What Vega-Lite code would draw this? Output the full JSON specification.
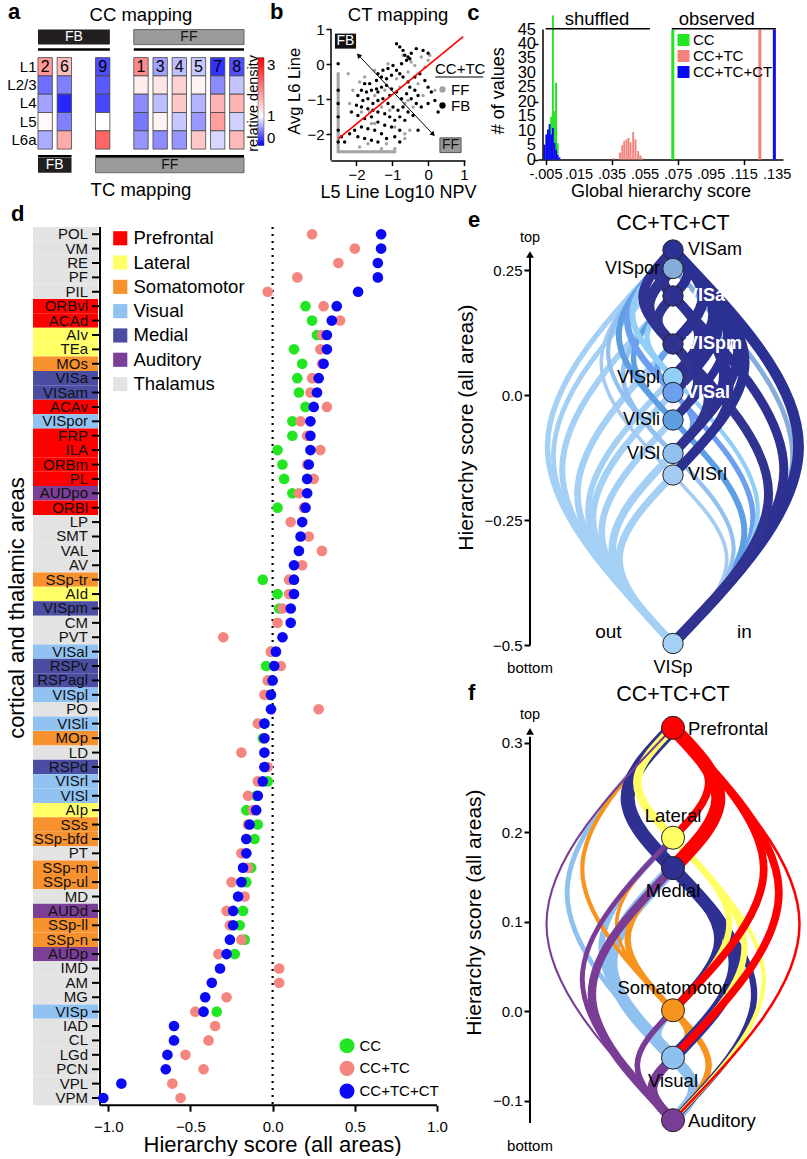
{
"$schema": "https://vega.github.io/schema/vega-lite/v6.json",
"background": "white",
"padding": {"left": 5, "top": 0, "right": 0, "bottom": 0},
"config": {
  "view": {"stroke": null},
  "font": "Liberation Sans",
  "axis": {"labelColor": "#000", "titleColor": "#000", "domainColor": "#000", "tickColor": "#000", "titleFontWeight": "normal", "grid": false, "domainWidth": 1.5, "tickWidth": 1.5, "labelFont": "Liberation Sans", "titleFont": "Liberation Sans"},
  "legend": {"labelColor": "#000", "labelFont": "Liberation Sans", "titleFont": "Liberation Sans", "titleColor": "#000"},
  "text": {"font": "Liberation Sans", "color": "#000"}
},
"datasets": {
  "heat": [
    {"col":"2","layer":"L1","v":1.8},{"col":"2","layer":"L2/3","v":0.43},{"col":"2","layer":"L4","v":0.63},{"col":"2","layer":"L5","v":1.05},{"col":"2","layer":"L6a","v":0.67},
    {"col":"6","layer":"L1","v":1.5},{"col":"6","layer":"L2/3","v":0.5},{"col":"6","layer":"L4","v":0.15},{"col":"6","layer":"L5","v":0.5},{"col":"6","layer":"L6a","v":1.67},
    {"col":"9","layer":"L1","v":0.3},{"col":"9","layer":"L2/3","v":0.35},{"col":"9","layer":"L4","v":0.28},{"col":"9","layer":"L5","v":1.0},{"col":"9","layer":"L6a","v":2.2},
    {"col":"1","layer":"L1","v":1.9},{"col":"1","layer":"L2/3","v":1.15},{"col":"1","layer":"L4","v":0.55},{"col":"1","layer":"L5","v":0.47},{"col":"1","layer":"L6a","v":0.59},
    {"col":"3","layer":"L1","v":0.63},{"col":"3","layer":"L2/3","v":1.2},{"col":"3","layer":"L4","v":0.75},{"col":"3","layer":"L5","v":1.1},{"col":"3","layer":"L6a","v":0.55},
    {"col":"4","layer":"L1","v":0.75},{"col":"4","layer":"L2/3","v":1.35},{"col":"4","layer":"L4","v":1.43},{"col":"4","layer":"L5","v":0.78},{"col":"4","layer":"L6a","v":0.59},
    {"col":"5","layer":"L1","v":0.78},{"col":"5","layer":"L2/3","v":1.1},{"col":"5","layer":"L4","v":0.7},{"col":"5","layer":"L5","v":0.6},{"col":"5","layer":"L6a","v":1.43},
    {"col":"7","layer":"L1","v":0.2},{"col":"7","layer":"L2/3","v":0.55},{"col":"7","layer":"L4","v":1.6},{"col":"7","layer":"L5","v":1.75},{"col":"7","layer":"L6a","v":0.84},
    {"col":"8","layer":"L1","v":0.31},{"col":"8","layer":"L2/3","v":0.77},{"col":"8","layer":"L4","v":1.6},{"col":"8","layer":"L5","v":0.82},{"col":"8","layer":"L6a","v":1.55}
  ],
  "pts": [
    {"x":-2.51,"y":-2.5,"c":"FF"},{"x":-2.45,"y":-2.5,"c":"FF"},{"x":-2.38,"y":-2.5,"c":"FF"},{"x":-2.31,"y":-2.5,"c":"FF"},{"x":-2.24,"y":-2.5,"c":"FF"},{"x":-2.17,"y":-2.5,"c":"FF"},{"x":-2.1,"y":-2.5,"c":"FF"},{"x":-2.03,"y":-2.5,"c":"FF"},{"x":-1.96,"y":-2.5,"c":"FF"},{"x":-1.89,"y":-2.5,"c":"FF"},{"x":-1.82,"y":-2.5,"c":"FF"},{"x":-1.75,"y":-2.5,"c":"FF"},{"x":-1.68,"y":-2.5,"c":"FF"},{"x":-1.61,"y":-2.5,"c":"FF"},{"x":-1.54,"y":-2.5,"c":"FF"},{"x":-1.47,"y":-2.5,"c":"FF"},{"x":-1.4,"y":-2.5,"c":"FF"},{"x":-1.33,"y":-2.5,"c":"FF"},{"x":-1.26,"y":-2.5,"c":"FF"},{"x":-1.19,"y":-2.5,"c":"FF"},{"x":-1.12,"y":-2.5,"c":"FF"},{"x":-1.05,"y":-2.5,"c":"FF"},{"x":-0.98,"y":-2.5,"c":"FF"},{"x":-0.93,"y":-2.5,"c":"FF"},
    {"x":-2.51,"y":-2.43,"c":"FF"},{"x":-2.51,"y":-2.36,"c":"FF"},{"x":-2.51,"y":-2.29,"c":"FF"},{"x":-2.51,"y":-2.22,"c":"FF"},{"x":-2.51,"y":-2.15,"c":"FF"},{"x":-2.51,"y":-2.08,"c":"FF"},{"x":-2.51,"y":-2.01,"c":"FF"},{"x":-2.51,"y":-1.94,"c":"FF"},{"x":-2.51,"y":-1.87,"c":"FF"},{"x":-2.51,"y":-1.8,"c":"FF"},{"x":-2.51,"y":-1.73,"c":"FF"},{"x":-2.51,"y":-1.66,"c":"FF"},{"x":-2.51,"y":-1.59,"c":"FF"},{"x":-2.51,"y":-1.52,"c":"FF"},{"x":-2.51,"y":-1.45,"c":"FF"},{"x":-2.51,"y":-1.38,"c":"FF"},{"x":-2.51,"y":-1.31,"c":"FF"},{"x":-2.51,"y":-1.24,"c":"FF"},{"x":-2.51,"y":-1.17,"c":"FF"},{"x":-2.51,"y":-1.1,"c":"FF"},{"x":-2.51,"y":-1.03,"c":"FF"},{"x":-2.51,"y":-0.96,"c":"FF"},{"x":-2.51,"y":-0.89,"c":"FF"},{"x":-2.51,"y":-0.82,"c":"FF"},{"x":-2.51,"y":-0.75,"c":"FF"},{"x":-2.51,"y":-0.68,"c":"FF"},{"x":-2.51,"y":-0.61,"c":"FF"},{"x":-2.51,"y":-0.54,"c":"FF"},{"x":-2.51,"y":-0.47,"c":"FF"},{"x":-2.51,"y":-0.4,"c":"FF"},{"x":-2.51,"y":-0.33,"c":"FF"},{"x":-2.51,"y":-0.27,"c":"FF"},
    {"x":-2.23,"y":-0.27,"c":"FF"},{"x":-1.91,"y":-0.5,"c":"FF"},{"x":-1.86,"y":-1.36,"c":"FF"},{"x":-1.58,"y":-1.69,"c":"FF"},{"x":-1.91,"y":-2.36,"c":"FF"},{"x":-1.68,"y":-2.27,"c":"FF"},{"x":-1.3,"y":-2.41,"c":"FF"},{"x":-0.93,"y":-2.41,"c":"FF"},{"x":-1.16,"y":-2.27,"c":"FF"},{"x":-0.51,"y":-1.88,"c":"FF"},{"x":-0.65,"y":-1.98,"c":"FF"},{"x":-0.93,"y":-1.79,"c":"FF"},{"x":-0.42,"y":-1.22,"c":"FF"},{"x":-0.56,"y":-1.03,"c":"FF"},{"x":-0.37,"y":-0.03,"c":"FF"},{"x":-0.19,"y":0.21,"c":"FF"},{"x":0.0,"y":0.12,"c":"FF"},{"x":-0.09,"y":-0.08,"c":"FF"},{"x":0.05,"y":0.26,"c":"FF"},{"x":-0.28,"y":-0.55,"c":"FF"},{"x":-0.14,"y":-0.89,"c":"FF"},{"x":-0.79,"y":-0.65,"c":"FF"},{"x":-1.21,"y":-0.74,"c":"FF"},{"x":-1.49,"y":-0.89,"c":"FF"},{"x":-1.3,"y":-1.22,"c":"FF"},{"x":-1.07,"y":-1.31,"c":"FF"},{"x":-1.63,"y":-1.36,"c":"FF"},{"x":-0.65,"y":-1.12,"c":"FF"},{"x":-0.56,"y":-0.22,"c":"FF"},{"x":-0.88,"y":-0.41,"c":"FF"},{"x":0.19,"y":-0.74,"c":"FF"},{"x":-0.47,"y":0.07,"c":"FF"},{"x":-0.7,"y":0.26,"c":"FF"},{"x":-1.12,"y":0.02,"c":"FF"},{"x":-1.49,"y":-0.17,"c":"FF"},{"x":-1.77,"y":-0.36,"c":"FF"},{"x":-2.1,"y":-0.74,"c":"FF"},{"x":-2.19,"y":-1.12,"c":"FF"},{"x":-1.49,"y":-1.69,"c":"FF"},{"x":-0.65,"y":-2.12,"c":"FF"},
    {"x":-0.88,"y":0.59,"c":"FB"},{"x":-0.79,"y":0.5,"c":"FB"},{"x":-0.7,"y":0.4,"c":"FB"},{"x":-0.65,"y":0.26,"c":"FB"},{"x":-0.56,"y":0.21,"c":"FB"},{"x":-0.51,"y":0.16,"c":"FB"},{"x":-0.47,"y":0.32,"c":"FB"},{"x":-0.6,"y":0.12,"c":"FB"},{"x":-0.33,"y":0.45,"c":"FB"},{"x":-0.14,"y":0.4,"c":"FB"},{"x":0.0,"y":0.32,"c":"FB"},{"x":-0.74,"y":0.02,"c":"FB"},{"x":-0.98,"y":-0.03,"c":"FB"},{"x":-1.12,"y":-0.12,"c":"FB"},{"x":-1.26,"y":-0.17,"c":"FB"},{"x":-1.4,"y":-0.27,"c":"FB"},{"x":-1.3,"y":-0.36,"c":"FB"},{"x":-1.16,"y":-0.41,"c":"FB"},{"x":-1.02,"y":-0.31,"c":"FB"},{"x":-0.88,"y":-0.17,"c":"FB"},{"x":-0.79,"y":-0.27,"c":"FB"},{"x":-0.7,"y":-0.36,"c":"FB"},{"x":-0.56,"y":-0.5,"c":"FB"},{"x":-0.37,"y":-0.36,"c":"FB"},{"x":-0.23,"y":-0.27,"c":"FB"},{"x":-0.09,"y":-0.46,"c":"FB"},{"x":0.0,"y":-0.65,"c":"FB"},{"x":0.09,"y":-0.79,"c":"FB"},{"x":0.19,"y":-1.03,"c":"FB"},{"x":0.0,"y":-1.12,"c":"FB"},{"x":-0.19,"y":-1.22,"c":"FB"},{"x":-0.33,"y":-1.12,"c":"FB"},{"x":-0.47,"y":-0.98,"c":"FB"},{"x":-0.6,"y":-0.84,"c":"FB"},{"x":-0.74,"y":-0.98,"c":"FB"},{"x":-0.88,"y":-0.79,"c":"FB"},{"x":-1.02,"y":-0.7,"c":"FB"},{"x":-1.16,"y":-0.6,"c":"FB"},{"x":-1.3,"y":-0.65,"c":"FB"},{"x":-1.44,"y":-0.7,"c":"FB"},{"x":-1.58,"y":-0.74,"c":"FB"},{"x":-1.72,"y":-0.79,"c":"FB"},{"x":-1.86,"y":-0.74,"c":"FB"},{"x":-1.96,"y":-0.89,"c":"FB"},{"x":-1.82,"y":-1.03,"c":"FB"},{"x":-1.68,"y":-0.98,"c":"FB"},{"x":-1.54,"y":-1.12,"c":"FB"},{"x":-1.4,"y":-1.03,"c":"FB"},{"x":-1.26,"y":-0.98,"c":"FB"},{"x":-1.12,"y":-1.12,"c":"FB"},{"x":-0.98,"y":-1.22,"c":"FB"},{"x":-0.84,"y":-1.31,"c":"FB"},{"x":-0.7,"y":-1.22,"c":"FB"},{"x":-0.56,"y":-1.36,"c":"FB"},{"x":-0.42,"y":-1.46,"c":"FB"},{"x":-0.65,"y":-1.6,"c":"FB"},{"x":-0.79,"y":-1.5,"c":"FB"},{"x":-0.93,"y":-1.6,"c":"FB"},{"x":-1.07,"y":-1.5,"c":"FB"},{"x":-1.21,"y":-1.41,"c":"FB"},{"x":-1.4,"y":-1.36,"c":"FB"},{"x":-1.54,"y":-1.31,"c":"FB"},{"x":-1.68,"y":-1.27,"c":"FB"},{"x":-1.86,"y":-1.22,"c":"FB"},{"x":-2.0,"y":-1.17,"c":"FB"},{"x":-2.14,"y":-1.36,"c":"FB"},{"x":-1.96,"y":-1.46,"c":"FB"},{"x":-1.77,"y":-1.55,"c":"FB"},{"x":-1.58,"y":-1.5,"c":"FB"},{"x":-1.4,"y":-1.65,"c":"FB"},{"x":-1.21,"y":-1.74,"c":"FB"},{"x":-1.02,"y":-1.79,"c":"FB"},{"x":-0.79,"y":-1.88,"c":"FB"},{"x":-0.93,"y":-2.07,"c":"FB"},{"x":-1.16,"y":-2.12,"c":"FB"},{"x":-1.3,"y":-1.98,"c":"FB"},{"x":-1.49,"y":-1.88,"c":"FB"},{"x":-1.68,"y":-1.84,"c":"FB"},{"x":-1.86,"y":-1.79,"c":"FB"},{"x":-2.05,"y":-1.88,"c":"FB"},{"x":-2.19,"y":-1.98,"c":"FB"},{"x":-1.96,"y":-2.07,"c":"FB"},{"x":-1.77,"y":-2.12,"c":"FB"},{"x":-1.58,"y":-2.17,"c":"FB"},{"x":-1.4,"y":-2.22,"c":"FB"},{"x":-2.42,"y":-2.07,"c":"FB"},{"x":-2.33,"y":-2.22,"c":"FB"},{"x":-2.51,"y":0.02,"c":"FB"},{"x":-0.37,"y":-0.74,"c":"FB"},{"x":-0.28,"y":-0.89,"c":"FB"},{"x":-0.51,"y":-0.65,"c":"FB"},{"x":-1.07,"y":-0.89,"c":"FB"},{"x":-1.4,"y":-0.79,"c":"FB"},{"x":-1.63,"y":-0.55,"c":"FB"},{"x":-1.44,"y":-0.46,"c":"FB"},{"x":-1.77,"y":-0.55,"c":"FB"},{"x":0.28,"y":-1.36,"c":"FB"},{"x":-0.28,"y":-1.88,"c":"FB"},{"x":-0.79,"y":-2.22,"c":"FB"},{"x":-2.51,"y":-0.74,"c":"FB"},{"x":-2.51,"y":-1.12,"c":"FB"},{"x":-2.51,"y":-1.5,"c":"FB"},{"x":-2.51,"y":-1.88,"c":"FB"},{"x":-2.51,"y":-2.22,"c":"FB"}
  ],
  "hist": [
    {"s":"CC+TC","v":0.0359,"n":0.5},{"s":"CC+TC","v":0.0398,"n":2.5},{"s":"CC+TC","v":0.0412,"n":5},{"s":"CC+TC","v":0.0424,"n":6.5},{"s":"CC+TC","v":0.0438,"n":7},{"s":"CC+TC","v":0.045,"n":7.5},{"s":"CC+TC","v":0.0462,"n":6},{"s":"CC+TC","v":0.0478,"n":9.5},{"s":"CC+TC","v":0.0492,"n":7},{"s":"CC+TC","v":0.0508,"n":3},{"s":"CC+TC","v":0.0521,"n":1.5},{"s":"CC+TC","v":0.0533,"n":0.5},
    {"s":"CC","v":-0.0019,"n":6},{"s":"CC","v":-0.0008,"n":38.9},{"s":"CC","v":0.0002,"n":11},{"s":"CC","v":0.0011,"n":23.1},{"s":"CC","v":0.0021,"n":4},
    {"s":"CC+TC+CT","v":-0.0058,"n":5.2},{"s":"CC+TC+CT","v":-0.0048,"n":8.7},{"s":"CC+TC+CT","v":-0.0038,"n":10.4},{"s":"CC+TC+CT","v":-0.0028,"n":12.3},{"s":"CC+TC+CT","v":-0.0019,"n":8.8},{"s":"CC+TC+CT","v":-0.0008,"n":11},{"s":"CC+TC+CT","v":0.0002,"n":5.8},{"s":"CC+TC+CT","v":0.0011,"n":3.5},{"s":"CC+TC+CT","v":0.0021,"n":1.7},{"s":"CC+TC+CT","v":0.0031,"n":0.8}
  ],
  "d1": [
    {"area":"POL","group":"Thalamus","CC":null,"CC+TC":0.24,"CC+TC+CT":0.66},
    {"area":"VM","group":"Thalamus","CC":null,"CC+TC":0.5,"CC+TC+CT":0.66},
    {"area":"RE","group":"Thalamus","CC":null,"CC+TC":0.4,"CC+TC+CT":0.64},
    {"area":"PF","group":"Thalamus","CC":null,"CC+TC":0.15,"CC+TC+CT":0.64},
    {"area":"PIL","group":"Thalamus","CC":null,"CC+TC":-0.03,"CC+TC+CT":0.52},
    {"area":"ORBvl","group":"Prefrontal","CC":0.2,"CC+TC":0.31,"CC+TC+CT":0.39},
    {"area":"ACAd","group":"Prefrontal","CC":0.24,"CC+TC":0.41,"CC+TC+CT":0.36},
    {"area":"AIv","group":"Lateral","CC":0.27,"CC+TC":0.3,"CC+TC+CT":0.33},
    {"area":"TEa","group":"Lateral","CC":0.13,"CC+TC":0.29,"CC+TC+CT":0.33},
    {"area":"MOs","group":"Somatomotor","CC":0.18,"CC+TC":0.3,"CC+TC+CT":0.31},
    {"area":"VISa","group":"Medial","CC":0.15,"CC+TC":0.24,"CC+TC+CT":0.28},
    {"area":"VISam","group":"Medial","CC":0.16,"CC+TC":0.23,"CC+TC+CT":0.27},
    {"area":"ACAv","group":"Prefrontal","CC":0.2,"CC+TC":0.33,"CC+TC+CT":0.25},
    {"area":"VISpor","group":"Visual","CC":0.12,"CC+TC":0.17,"CC+TC+CT":0.23},
    {"area":"FRP","group":"Prefrontal","CC":0.12,"CC+TC":0.21,"CC+TC+CT":0.23},
    {"area":"ILA","group":"Prefrontal","CC":0.03,"CC+TC":0.29,"CC+TC+CT":0.23},
    {"area":"ORBm","group":"Prefrontal","CC":0.06,"CC+TC":0.21,"CC+TC+CT":0.22},
    {"area":"PL","group":"Prefrontal","CC":0.07,"CC+TC":0.25,"CC+TC+CT":0.21},
    {"area":"AUDpo","group":"Auditory","CC":0.12,"CC+TC":0.16,"CC+TC+CT":0.21},
    {"area":"ORBl","group":"Prefrontal","CC":0.03,"CC+TC":0.19,"CC+TC+CT":0.2},
    {"area":"LP","group":"Thalamus","CC":null,"CC+TC":0.11,"CC+TC+CT":0.18},
    {"area":"SMT","group":"Thalamus","CC":null,"CC+TC":0.22,"CC+TC+CT":0.17},
    {"area":"VAL","group":"Thalamus","CC":null,"CC+TC":0.3,"CC+TC+CT":0.16},
    {"area":"AV","group":"Thalamus","CC":null,"CC+TC":0.18,"CC+TC+CT":0.13},
    {"area":"SSp-tr","group":"Somatomotor","CC":-0.06,"CC+TC":0.1,"CC+TC+CT":0.13},
    {"area":"AId","group":"Lateral","CC":0.03,"CC+TC":0.1,"CC+TC+CT":0.13},
    {"area":"VISpm","group":"Medial","CC":0.04,"CC+TC":0.06,"CC+TC+CT":0.11},
    {"area":"CM","group":"Thalamus","CC":null,"CC+TC":0.03,"CC+TC+CT":0.11},
    {"area":"PVT","group":"Thalamus","CC":null,"CC+TC":-0.3,"CC+TC+CT":0.06},
    {"area":"VISal","group":"Visual","CC":-0.01,"CC+TC":-0.01,"CC+TC+CT":0.02},
    {"area":"RSPv","group":"Medial","CC":-0.04,"CC+TC":0.05,"CC+TC+CT":0.01},
    {"area":"RSPagl","group":"Medial","CC":-0.01,"CC+TC":-0.03,"CC+TC+CT":0.0},
    {"area":"VISpl","group":"Visual","CC":-0.02,"CC+TC":-0.05,"CC+TC+CT":-0.01},
    {"area":"PO","group":"Thalamus","CC":null,"CC+TC":0.28,"CC+TC+CT":-0.01},
    {"area":"VISli","group":"Visual","CC":-0.05,"CC+TC":-0.09,"CC+TC+CT":-0.05}
  ],
  "d2": [
    {"area":"MOp","group":"Somatomotor","CC":-0.06,"CC+TC":-0.05,"CC+TC+CT":-0.05},
    {"area":"LD","group":"Thalamus","CC":null,"CC+TC":-0.19,"CC+TC+CT":-0.05},
    {"area":"RSPd","group":"Medial","CC":-0.04,"CC+TC":-0.03,"CC+TC+CT":-0.05},
    {"area":"VISrl","group":"Visual","CC":-0.03,"CC+TC":-0.09,"CC+TC+CT":-0.06},
    {"area":"VISl","group":"Visual","CC":-0.1,"CC+TC":-0.15,"CC+TC+CT":-0.09},
    {"area":"AIp","group":"Lateral","CC":-0.16,"CC+TC":-0.12,"CC+TC+CT":-0.1},
    {"area":"SSs","group":"Somatomotor","CC":-0.09,"CC+TC":-0.15,"CC+TC+CT":-0.14},
    {"area":"SSp-bfd","group":"Somatomotor","CC":-0.11,"CC+TC":-0.16,"CC+TC+CT":-0.16},
    {"area":"PT","group":"Thalamus","CC":null,"CC+TC":-0.19,"CC+TC+CT":-0.16},
    {"area":"SSp-m","group":"Somatomotor","CC":-0.13,"CC+TC":-0.15,"CC+TC+CT":-0.18},
    {"area":"SSp-ul","group":"Somatomotor","CC":-0.16,"CC+TC":-0.25,"CC+TC+CT":-0.19},
    {"area":"MD","group":"Thalamus","CC":null,"CC+TC":-0.17,"CC+TC+CT":-0.21},
    {"area":"AUDd","group":"Auditory","CC":-0.18,"CC+TC":-0.28,"CC+TC+CT":-0.24},
    {"area":"SSp-ll","group":"Somatomotor","CC":-0.2,"CC+TC":-0.26,"CC+TC+CT":-0.24},
    {"area":"SSp-n","group":"Somatomotor","CC":-0.17,"CC+TC":-0.19,"CC+TC+CT":-0.26},
    {"area":"AUDp","group":"Auditory","CC":-0.23,"CC+TC":-0.33,"CC+TC+CT":-0.28},
    {"area":"IMD","group":"Thalamus","CC":null,"CC+TC":0.04,"CC+TC+CT":-0.32},
    {"area":"AM","group":"Thalamus","CC":null,"CC+TC":0.04,"CC+TC+CT":-0.37},
    {"area":"MG","group":"Thalamus","CC":null,"CC+TC":-0.28,"CC+TC+CT":-0.41},
    {"area":"VISp","group":"Visual","CC":-0.34,"CC+TC":-0.47,"CC+TC+CT":-0.42},
    {"area":"IAD","group":"Thalamus","CC":null,"CC+TC":-0.35,"CC+TC+CT":-0.6},
    {"area":"CL","group":"Thalamus","CC":null,"CC+TC":-0.39,"CC+TC+CT":-0.6},
    {"area":"LGd","group":"Thalamus","CC":null,"CC+TC":-0.53,"CC+TC+CT":-0.64},
    {"area":"PCN","group":"Thalamus","CC":null,"CC+TC":-0.42,"CC+TC+CT":-0.65},
    {"area":"VPL","group":"Thalamus","CC":null,"CC+TC":-0.61,"CC+TC+CT":-0.92},
    {"area":"VPM","group":"Thalamus","CC":null,"CC+TC":-0.56,"CC+TC+CT":-1.03}
  ],
  "enodes": [
    {"n":"VISam","y":0.29},{"n":"VISpor","y":0.253},{"n":"VISa","y":0.198},{"n":"VISpm","y":0.102},{"n":"VISpl","y":0.035},{"n":"VISal","y":0.005},{"n":"VISli","y":-0.05},{"n":"VISl","y":-0.117},{"n":"VISrl","y":-0.16},{"n":"VISp","y":-0.497}
  ],
  "earcs": [
    {"a":1,"k":0,"x":0,"y":-0.497,"s":"VISp","w":0.45},{"a":1,"k":1,"x":-0.913,"y":-0.1035,"s":"VISp","w":0.45},{"a":1,"k":2,"x":0,"y":0.29,"s":"VISp","w":0.45},
    {"a":2,"k":0,"x":0,"y":-0.497,"s":"VISp","w":0.4},{"a":2,"k":1,"x":-0.87,"y":-0.122,"s":"VISp","w":0.4},{"a":2,"k":2,"x":0,"y":0.253,"s":"VISp","w":0.4},
    {"a":3,"k":0,"x":0,"y":-0.497,"s":"VISp","w":0.5},{"a":3,"k":1,"x":-0.806,"y":-0.1495,"s":"VISp","w":0.5},{"a":3,"k":2,"x":0,"y":0.198,"s":"VISp","w":0.5},
    {"a":4,"k":0,"x":0,"y":-0.497,"s":"VISp","w":0.55},{"a":4,"k":1,"x":-0.695,"y":-0.1975,"s":"VISp","w":0.55},{"a":4,"k":2,"x":0,"y":0.102,"s":"VISp","w":0.55},
    {"a":5,"k":0,"x":0,"y":-0.497,"s":"VISp","w":0.5},{"a":5,"k":1,"x":-0.617,"y":-0.231,"s":"VISp","w":0.5},{"a":5,"k":2,"x":0,"y":0.035,"s":"VISp","w":0.5},
    {"a":6,"k":0,"x":0,"y":-0.497,"s":"VISp","w":0.55},{"a":6,"k":1,"x":-0.582,"y":-0.246,"s":"VISp","w":0.55},{"a":6,"k":2,"x":0,"y":0.005,"s":"VISp","w":0.55},
    {"a":7,"k":0,"x":0,"y":-0.497,"s":"VISp","w":0.55},{"a":7,"k":1,"x":-0.519,"y":-0.2735,"s":"VISp","w":0.55},{"a":7,"k":2,"x":0,"y":-0.05,"s":"VISp","w":0.55},
    {"a":8,"k":0,"x":0,"y":-0.497,"s":"VISp","w":0.65},{"a":8,"k":1,"x":-0.441,"y":-0.307,"s":"VISp","w":0.65},{"a":8,"k":2,"x":0,"y":-0.117,"s":"VISp","w":0.65},
    {"a":9,"k":0,"x":0,"y":-0.497,"s":"VISp","w":0.6},{"a":9,"k":1,"x":-0.391,"y":-0.3285,"s":"VISp","w":0.6},{"a":9,"k":2,"x":0,"y":-0.16,"s":"VISp","w":0.6},
    {"a":10,"k":0,"x":0,"y":-0.16,"s":"VISrl","w":0.3},{"a":10,"k":1,"x":-0.522,"y":0.065,"s":"VISrl","w":0.3},{"a":10,"k":2,"x":0,"y":0.29,"s":"VISrl","w":0.3},
    {"a":11,"k":0,"x":0,"y":-0.117,"s":"VISl","w":0.35},{"a":11,"k":1,"x":-0.472,"y":0.0865,"s":"VISl","w":0.35},{"a":11,"k":2,"x":0,"y":0.29,"s":"VISl","w":0.35},
    {"a":12,"k":0,"x":0,"y":-0.117,"s":"VISl","w":0.4},{"a":12,"k":1,"x":-0.365,"y":0.0405,"s":"VISl","w":0.4},{"a":12,"k":2,"x":0,"y":0.198,"s":"VISl","w":0.4},
    {"a":13,"k":0,"x":0,"y":-0.05,"s":"VISli","w":0.5},{"a":13,"k":1,"x":-0.394,"y":0.12,"s":"VISli","w":0.5},{"a":13,"k":2,"x":0,"y":0.29,"s":"VISli","w":0.5},
    {"a":14,"k":0,"x":0,"y":-0.05,"s":"VISli","w":0.45},{"a":14,"k":1,"x":-0.288,"y":0.074,"s":"VISli","w":0.45},{"a":14,"k":2,"x":0,"y":0.198,"s":"VISli","w":0.45},
    {"a":15,"k":0,"x":0,"y":0.005,"s":"VISal","w":0.55},{"a":15,"k":1,"x":-0.331,"y":0.1475,"s":"VISal","w":0.55},{"a":15,"k":2,"x":0,"y":0.29,"s":"VISal","w":0.55},
    {"a":16,"k":0,"x":0,"y":0.005,"s":"VISal","w":0.5},{"a":16,"k":1,"x":-0.113,"y":0.0535,"s":"VISal","w":0.5},{"a":16,"k":2,"x":0,"y":0.102,"s":"VISal","w":0.5},
    {"a":17,"k":0,"x":0,"y":0.035,"s":"VISpl","w":0.5},{"a":17,"k":1,"x":-0.296,"y":0.1625,"s":"VISpl","w":0.5},{"a":17,"k":2,"x":0,"y":0.29,"s":"VISpl","w":0.5},
    {"a":18,"k":0,"x":0,"y":0.035,"s":"VISpl","w":0.45},{"a":18,"k":1,"x":-0.189,"y":0.1165,"s":"VISpl","w":0.45},{"a":18,"k":2,"x":0,"y":0.198,"s":"VISpl","w":0.45},
    {"a":19,"k":0,"x":0,"y":0.253,"s":"VISpor","w":0.3},{"a":19,"k":1,"x":-0.043,"y":0.2715,"s":"VISpor","w":0.3},{"a":19,"k":2,"x":0,"y":0.29,"s":"VISpor","w":0.3},
    {"a":20,"k":0,"x":0,"y":0.102,"s":"VISpm","w":0.8},{"a":20,"k":1,"x":-0.111,"y":0.15,"s":"VISpm","w":0.8},{"a":20,"k":2,"x":0,"y":0.198,"s":"VISpm","w":0.8},
    {"a":21,"k":0,"x":0,"y":0.198,"s":"VISa","w":0.8},{"a":21,"k":1,"x":-0.107,"y":0.244,"s":"VISa","w":0.8},{"a":21,"k":2,"x":0,"y":0.29,"s":"VISa","w":0.8},
    {"a":22,"k":0,"x":0,"y":0.102,"s":"VISpm","w":0.8},{"a":22,"k":1,"x":-0.218,"y":0.196,"s":"VISpm","w":0.8},{"a":22,"k":2,"x":0,"y":0.29,"s":"VISpm","w":0.8},
    {"a":23,"k":0,"x":0,"y":0.253,"s":"VISpor","w":0.4},{"a":23,"k":1,"x":0.87,"y":-0.122,"s":"VISpor","w":0.4},{"a":23,"k":2,"x":0,"y":-0.497,"s":"VISpor","w":0.4},
    {"a":24,"k":0,"x":0,"y":0.005,"s":"VISal","w":0.45},{"a":24,"k":1,"x":0.582,"y":-0.246,"s":"VISal","w":0.45},{"a":24,"k":2,"x":0,"y":-0.497,"s":"VISal","w":0.45},
    {"a":25,"k":0,"x":0,"y":-0.05,"s":"VISli","w":0.5},{"a":25,"k":1,"x":0.519,"y":-0.2735,"s":"VISli","w":0.5},{"a":25,"k":2,"x":0,"y":-0.497,"s":"VISli","w":0.5},
    {"a":26,"k":0,"x":0,"y":0.035,"s":"VISpl","w":0.35},{"a":26,"k":1,"x":0.617,"y":-0.231,"s":"VISpl","w":0.35},{"a":26,"k":2,"x":0,"y":-0.497,"s":"VISpl","w":0.35},
    {"a":27,"k":0,"x":0,"y":-0.117,"s":"VISl","w":0.35},{"a":27,"k":1,"x":0.441,"y":-0.307,"s":"VISl","w":0.35},{"a":27,"k":2,"x":0,"y":-0.497,"s":"VISl","w":0.35},
    {"a":28,"k":0,"x":0,"y":-0.16,"s":"VISrl","w":0.3},{"a":28,"k":1,"x":0.391,"y":-0.3285,"s":"VISrl","w":0.3},{"a":28,"k":2,"x":0,"y":-0.497,"s":"VISrl","w":0.3},
    {"a":29,"k":0,"x":0,"y":0.253,"s":"VISpor","w":0.4},{"a":29,"k":1,"x":0.351,"y":0.1015,"s":"VISpor","w":0.4},{"a":29,"k":2,"x":0,"y":-0.05,"s":"VISpor","w":0.4},
    {"a":30,"k":0,"x":0,"y":0.005,"s":"VISal","w":0.4},{"a":30,"k":1,"x":0.142,"y":-0.056,"s":"VISal","w":0.4},{"a":30,"k":2,"x":0,"y":-0.117,"s":"VISal","w":0.4},
    {"a":31,"k":0,"x":0,"y":0.29,"s":"VISam","w":0.9},{"a":31,"k":1,"x":0.913,"y":-0.1035,"s":"VISam","w":0.9},{"a":31,"k":2,"x":0,"y":-0.497,"s":"VISam","w":0.9},
    {"a":32,"k":0,"x":0,"y":0.198,"s":"VISa","w":0.75},{"a":32,"k":1,"x":0.806,"y":-0.1495,"s":"VISa","w":0.75},{"a":32,"k":2,"x":0,"y":-0.497,"s":"VISa","w":0.75},
    {"a":33,"k":0,"x":0,"y":0.102,"s":"VISpm","w":0.75},{"a":33,"k":1,"x":0.695,"y":-0.1975,"s":"VISpm","w":0.75},{"a":33,"k":2,"x":0,"y":-0.497,"s":"VISpm","w":0.75},
    {"a":34,"k":0,"x":0,"y":0.29,"s":"VISam","w":0.8},{"a":34,"k":1,"x":0.522,"y":0.065,"s":"VISam","w":0.8},{"a":34,"k":2,"x":0,"y":-0.16,"s":"VISam","w":0.8},
    {"a":35,"k":0,"x":0,"y":0.29,"s":"VISam","w":0.8},{"a":35,"k":1,"x":0.472,"y":0.0865,"s":"VISam","w":0.8},{"a":35,"k":2,"x":0,"y":-0.117,"s":"VISam","w":0.8},
    {"a":36,"k":0,"x":0,"y":0.29,"s":"VISam","w":0.7},{"a":36,"k":1,"x":0.394,"y":0.12,"s":"VISam","w":0.7},{"a":36,"k":2,"x":0,"y":-0.05,"s":"VISam","w":0.7},
    {"a":37,"k":0,"x":0,"y":0.198,"s":"VISa","w":0.7},{"a":37,"k":1,"x":0.365,"y":0.0405,"s":"VISa","w":0.7},{"a":37,"k":2,"x":0,"y":-0.117,"s":"VISa","w":0.7},
    {"a":38,"k":0,"x":0,"y":0.198,"s":"VISa","w":0.6},{"a":38,"k":1,"x":0.415,"y":0.019,"s":"VISa","w":0.6},{"a":38,"k":2,"x":0,"y":-0.16,"s":"VISa","w":0.6},
    {"a":39,"k":0,"x":0,"y":0.102,"s":"VISpm","w":0.7},{"a":39,"k":1,"x":0.254,"y":-0.0075,"s":"VISpm","w":0.7},{"a":39,"k":2,"x":0,"y":-0.117,"s":"VISpm","w":0.7},
    {"a":40,"k":0,"x":0,"y":0.102,"s":"VISpm","w":0.7},{"a":40,"k":1,"x":0.176,"y":0.026,"s":"VISpm","w":0.7},{"a":40,"k":2,"x":0,"y":-0.05,"s":"VISpm","w":0.7},
    {"a":41,"k":0,"x":0,"y":0.29,"s":"VISam","w":0.9},{"a":41,"k":1,"x":0.218,"y":0.196,"s":"VISam","w":0.9},{"a":41,"k":2,"x":0,"y":0.102,"s":"VISam","w":0.9},
    {"a":42,"k":0,"x":0,"y":0.29,"s":"VISam","w":0.8},{"a":42,"k":1,"x":0.107,"y":0.244,"s":"VISam","w":0.8},{"a":42,"k":2,"x":0,"y":0.198,"s":"VISam","w":0.8},
    {"a":43,"k":0,"x":0,"y":0.29,"s":"VISam","w":0.9},{"a":43,"k":1,"x":0.296,"y":0.1625,"s":"VISam","w":0.9},{"a":43,"k":2,"x":0,"y":0.035,"s":"VISam","w":0.9},
    {"a":44,"k":0,"x":0,"y":0.29,"s":"VISam","w":0.9},{"a":44,"k":1,"x":0.331,"y":0.1475,"s":"VISam","w":0.9},{"a":44,"k":2,"x":0,"y":0.005,"s":"VISam","w":0.9},
    {"a":45,"k":0,"x":0,"y":0.198,"s":"VISa","w":0.8},{"a":45,"k":1,"x":0.224,"y":0.1015,"s":"VISa","w":0.8},{"a":45,"k":2,"x":0,"y":0.005,"s":"VISa","w":0.8},
    {"a":46,"k":0,"x":0,"y":0.198,"s":"VISa","w":0.8},{"a":46,"k":1,"x":0.189,"y":0.1165,"s":"VISa","w":0.8},{"a":46,"k":2,"x":0,"y":0.035,"s":"VISa","w":0.8},
    {"a":47,"k":0,"x":0,"y":0.102,"s":"VISpm","w":0.8},{"a":47,"k":1,"x":0.113,"y":0.0535,"s":"VISpm","w":0.8},{"a":47,"k":2,"x":0,"y":0.005,"s":"VISpm","w":0.8},
    {"a":48,"k":0,"x":0,"y":0.102,"s":"VISpm","w":0.9},{"a":48,"k":1,"x":-0.175,"y":0.1775,"s":"VISpm","w":0.9},{"a":48,"k":2,"x":0,"y":0.253,"s":"VISpm","w":0.9},
    {"a":49,"k":0,"x":0,"y":0.198,"s":"VISa","w":0.8},{"a":49,"k":1,"x":-0.064,"y":0.2255,"s":"VISa","w":0.8},{"a":49,"k":2,"x":0,"y":0.253,"s":"VISa","w":0.8}
  ],
  "fnodes": [
    {"n":"Prefrontal","y":0.317},{"n":"Lateral","y":0.194},{"n":"Medial","y":0.16},{"n":"Somatomotor","y":0.001},{"n":"Visual","y":-0.052},{"n":"Auditory","y":-0.122}
  ],
  "farcs": [
    {"a":1,"k":0,"x":0,"y":-0.052,"s":"Visual","w":0.35},{"a":1,"k":1,"x":-0.77,"y":0.1325,"s":"Visual","w":0.35},{"a":1,"k":2,"x":0,"y":0.317,"s":"Visual","w":0.35},
    {"a":2,"k":0,"x":0,"y":-0.052,"s":"Visual","w":0.45},{"a":2,"k":1,"x":-0.52,"y":0.071,"s":"Visual","w":0.45},{"a":2,"k":2,"x":0,"y":0.194,"s":"Visual","w":0.45},
    {"a":3,"k":0,"x":0,"y":-0.052,"s":"Visual","w":0.9},{"a":3,"k":1,"x":-0.45,"y":0.054,"s":"Visual","w":0.9},{"a":3,"k":2,"x":0,"y":0.16,"s":"Visual","w":0.9},
    {"a":4,"k":0,"x":0,"y":-0.052,"s":"Visual","w":0.5},{"a":4,"k":1,"x":-0.11,"y":-0.0255,"s":"Visual","w":0.5},{"a":4,"k":2,"x":0,"y":0.001,"s":"Visual","w":0.5},
    {"a":5,"k":0,"x":0,"y":0.001,"s":"Somatomotor","w":0.3},{"a":5,"k":1,"x":-0.66,"y":0.159,"s":"Somatomotor","w":0.3},{"a":5,"k":2,"x":0,"y":0.317,"s":"Somatomotor","w":0.3},
    {"a":6,"k":0,"x":0,"y":0.001,"s":"Somatomotor","w":0.25},{"a":6,"k":1,"x":-0.41,"y":0.0975,"s":"Somatomotor","w":0.25},{"a":6,"k":2,"x":0,"y":0.194,"s":"Somatomotor","w":0.25},
    {"a":7,"k":0,"x":0,"y":0.001,"s":"Somatomotor","w":0.45},{"a":7,"k":1,"x":-0.33,"y":0.0805,"s":"Somatomotor","w":0.45},{"a":7,"k":2,"x":0,"y":0.16,"s":"Somatomotor","w":0.45},
    {"a":8,"k":0,"x":0,"y":0.16,"s":"Medial","w":1.0},{"a":8,"k":1,"x":-0.33,"y":0.2385,"s":"Medial","w":1.0},{"a":8,"k":2,"x":0,"y":0.317,"s":"Medial","w":1.0},
    {"a":9,"k":0,"x":0,"y":0.16,"s":"Medial","w":0.4},{"a":9,"k":1,"x":-0.07,"y":0.177,"s":"Medial","w":0.4},{"a":9,"k":2,"x":0,"y":0.194,"s":"Medial","w":0.4},
    {"a":10,"k":0,"x":0,"y":0.194,"s":"Lateral","w":0.6},{"a":10,"k":1,"x":-0.26,"y":0.2555,"s":"Lateral","w":0.6},{"a":10,"k":2,"x":0,"y":0.317,"s":"Lateral","w":0.6},
    {"a":11,"k":0,"x":0,"y":-0.122,"s":"Auditory","w":0.15},{"a":11,"k":1,"x":-0.92,"y":0.0975,"s":"Auditory","w":0.15},{"a":11,"k":2,"x":0,"y":0.317,"s":"Auditory","w":0.15},
    {"a":12,"k":0,"x":0,"y":-0.122,"s":"Auditory","w":0.35},{"a":12,"k":1,"x":-0.66,"y":0.036,"s":"Auditory","w":0.35},{"a":12,"k":2,"x":0,"y":0.194,"s":"Auditory","w":0.35},
    {"a":13,"k":0,"x":0,"y":-0.122,"s":"Auditory","w":0.6},{"a":13,"k":1,"x":-0.59,"y":0.019,"s":"Auditory","w":0.6},{"a":13,"k":2,"x":0,"y":0.16,"s":"Auditory","w":0.6},
    {"a":14,"k":0,"x":0,"y":-0.122,"s":"Auditory","w":0.4},{"a":14,"k":1,"x":-0.26,"y":-0.0605,"s":"Auditory","w":0.4},{"a":14,"k":2,"x":0,"y":0.001,"s":"Auditory","w":0.4},
    {"a":15,"k":0,"x":0,"y":-0.122,"s":"Auditory","w":0.7},{"a":15,"k":1,"x":-0.15,"y":-0.087,"s":"Auditory","w":0.7},{"a":15,"k":2,"x":0,"y":-0.052,"s":"Auditory","w":0.7},
    {"a":16,"k":0,"x":0,"y":-0.052,"s":"Visual","w":0.8},{"a":16,"k":1,"x":0.15,"y":-0.087,"s":"Visual","w":0.8},{"a":16,"k":2,"x":0,"y":-0.122,"s":"Visual","w":0.8},
    {"a":17,"k":0,"x":0,"y":0.001,"s":"Somatomotor","w":0.5},{"a":17,"k":1,"x":0.11,"y":-0.0255,"s":"Somatomotor","w":0.5},{"a":17,"k":2,"x":0,"y":-0.052,"s":"Somatomotor","w":0.5},
    {"a":18,"k":0,"x":0,"y":0.001,"s":"Somatomotor","w":0.45},{"a":18,"k":1,"x":0.26,"y":-0.0605,"s":"Somatomotor","w":0.45},{"a":18,"k":2,"x":0,"y":-0.122,"s":"Somatomotor","w":0.45},
    {"a":19,"k":0,"x":0,"y":0.16,"s":"Medial","w":0.6},{"a":19,"k":1,"x":0.33,"y":0.0805,"s":"Medial","w":0.6},{"a":19,"k":2,"x":0,"y":0.001,"s":"Medial","w":0.6},
    {"a":20,"k":0,"x":0,"y":0.16,"s":"Medial","w":0.9},{"a":20,"k":1,"x":0.45,"y":0.054,"s":"Medial","w":0.9},{"a":20,"k":2,"x":0,"y":-0.052,"s":"Medial","w":0.9},
    {"a":21,"k":0,"x":0,"y":0.16,"s":"Medial","w":0.45},{"a":21,"k":1,"x":0.59,"y":0.019,"s":"Medial","w":0.45},{"a":21,"k":2,"x":0,"y":-0.122,"s":"Medial","w":0.45},
    {"a":22,"k":0,"x":0,"y":0.194,"s":"Lateral","w":0.4},{"a":22,"k":1,"x":0.07,"y":0.177,"s":"Lateral","w":0.4},{"a":22,"k":2,"x":0,"y":0.16,"s":"Lateral","w":0.4},
    {"a":23,"k":0,"x":0,"y":0.194,"s":"Lateral","w":0.45},{"a":23,"k":1,"x":0.41,"y":0.0975,"s":"Lateral","w":0.45},{"a":23,"k":2,"x":0,"y":0.001,"s":"Lateral","w":0.45},
    {"a":24,"k":0,"x":0,"y":0.194,"s":"Lateral","w":0.45},{"a":24,"k":1,"x":0.52,"y":0.071,"s":"Lateral","w":0.45},{"a":24,"k":2,"x":0,"y":-0.052,"s":"Lateral","w":0.45},
    {"a":25,"k":0,"x":0,"y":0.194,"s":"Lateral","w":0.3},{"a":25,"k":1,"x":0.66,"y":0.036,"s":"Lateral","w":0.3},{"a":25,"k":2,"x":0,"y":-0.122,"s":"Lateral","w":0.3},
    {"a":26,"k":0,"x":0,"y":0.317,"s":"Prefrontal","w":0.55},{"a":26,"k":1,"x":0.26,"y":0.2555,"s":"Prefrontal","w":0.55},{"a":26,"k":2,"x":0,"y":0.194,"s":"Prefrontal","w":0.55},
    {"a":27,"k":0,"x":0,"y":0.317,"s":"Prefrontal","w":1.0},{"a":27,"k":1,"x":0.33,"y":0.2385,"s":"Prefrontal","w":1.0},{"a":27,"k":2,"x":0,"y":0.16,"s":"Prefrontal","w":1.0},
    {"a":28,"k":0,"x":0,"y":0.317,"s":"Prefrontal","w":0.55},{"a":28,"k":1,"x":0.66,"y":0.159,"s":"Prefrontal","w":0.55},{"a":28,"k":2,"x":0,"y":0.001,"s":"Prefrontal","w":0.55},
    {"a":29,"k":0,"x":0,"y":0.317,"s":"Prefrontal","w":0.55},{"a":29,"k":1,"x":0.77,"y":0.1325,"s":"Prefrontal","w":0.55},{"a":29,"k":2,"x":0,"y":-0.052,"s":"Prefrontal","w":0.55},
    {"a":30,"k":0,"x":0,"y":0.317,"s":"Prefrontal","w":0.18},{"a":30,"k":1,"x":0.92,"y":0.0975,"s":"Prefrontal","w":0.18},{"a":30,"k":2,"x":0,"y":-0.122,"s":"Prefrontal","w":0.18}
  ]
},
"columns": 4,
"spacing": {"row": 0, "column": 0},
"align": "each",
"bounds": "flush",
"resolve": {"scale": {"color": "independent", "size": "independent", "fill": "independent", "stroke": "independent"}, "legend": {"color": "independent", "size": "independent", "fill": "independent", "stroke": "independent"}},
"concat": [
  {
    "width": 211, "height": 164.7,
    "layer": [
      {"data": {"name": "heat"},
       "mark": {"type": "rect", "stroke": "#444", "strokeWidth": 0.8},
       "encoding": {
         "x": {"field": "col", "type": "nominal", "scale": {"domain": ["2","6","s1","9","s2","1","3","4","5","7","8"], "paddingInner": 0.25, "paddingOuter": 0.13, "align": 1}, "axis": null},
         "y": {"field": "layer", "type": "nominal", "scale": {"domain": ["hdrT","gT","L1","L2/3","L4","L5","L6a","gB","hdrB"], "paddingInner": 0, "paddingOuter": 0}, "axis": {"values": ["L1","L2/3","L4","L5","L6a"], "ticks": false, "domain": false, "title": null, "labelFontSize": 15, "labelPadding": -3}},
         "color": {"field": "v", "type": "quantitative", "scale": {"domain": [0,1,3], "range": ["#0000ff","#ffffff","#ff0000"], "interpolate": "rgb"}, "legend": {"orient": "none", "legendX": 225, "legendY": 36.6, "direction": "vertical", "gradientLength": 88, "gradientThickness": 6, "values": [0,1,3], "title": null, "labelFontSize": 15, "labelOffset": 3, "gradientStrokeColor": "#444", "gradientStrokeWidth": 0.5}}
       }},
      {"data": {"name": "heat"},
       "transform": [{"filter": "datum.layer === 'L1'"}],
       "mark": {"type": "text", "fontSize": 16, "color": "#000"},
       "encoding": {
         "x": {"field": "col", "type": "nominal"},
         "y": {"field": "layer", "type": "nominal"},
         "text": {"field": "col"}
       }},
      {"data": {"values": [{"f":"2","t":"9","r1":"hdrT","r2":"gT"},{"f":"2","t":"6","r1":"gB","r2":"hdrB"}]},
       "mark": {"type": "rect", "color": "#231f20"},
       "encoding": {
         "x": {"field": "f", "type": "nominal", "bandPosition": 0},
         "x2": {"field": "t", "bandPosition": 1},
         "y": {"field": "r1", "type": "nominal", "bandPosition": 0.47},
         "y2": {"field": "r2", "bandPosition": 0.29}
       }},
      {"data": {"values": [{"f":"1","t":"8","r1":"hdrT","r2":"gT"},{"f":"9","t":"8","r1":"gB","r2":"hdrB"}]},
       "mark": {"type": "rect", "fill": "#9a9a9a", "stroke": "#666", "strokeWidth": 1},
       "encoding": {
         "x": {"field": "f", "type": "nominal", "bandPosition": 0},
         "x2": {"field": "t", "bandPosition": 1},
         "y": {"field": "r1", "type": "nominal", "bandPosition": 0.47},
         "y2": {"field": "r2", "bandPosition": 0.29}
       }},
      {"data": {"values": [{"p":"6","r":"hdrT"},{"p":"2","r":"gB"}]},
       "mark": {"type": "text", "color": "#ffffff", "fontSize": 14, "baseline": "middle"},
       "encoding": {
         "x": {"field": "p", "type": "nominal", "bandPosition": 1.1667},
         "y": {"field": "r", "type": "nominal", "bandPosition": 0.88},
         "text": {"value": "FB"}
       }},
      {"data": {"values": [{"p":"4","r":"hdrT"},{"p":"3","r":"gB"}]},
       "mark": {"type": "text", "color": "#111", "fontSize": 14, "baseline": "middle"},
       "encoding": {
         "x": {"field": "p", "type": "nominal", "bandPosition": 1.1667},
         "y": {"field": "r", "type": "nominal", "bandPosition": 0.88},
         "text": {"value": "FF"}
       }},
      {"data": {"values": [{"f":"2","t":"9"},{"f":"1","t":"8"}]},
       "mark": {"type": "rule", "strokeWidth": 2.5, "color": "#000"},
       "encoding": {
         "x": {"field": "f", "type": "nominal", "bandPosition": 0},
         "x2": {"field": "t", "bandPosition": 1},
         "y": {"datum": "gT", "type": "nominal", "bandPosition": 0.56}
       }},
      {"data": {"values": [{"f":"2","t":"6"},{"f":"9","t":"8"}]},
       "mark": {"type": "rule", "strokeWidth": 2.5, "color": "#000"},
       "encoding": {
         "x": {"field": "f", "type": "nominal", "bandPosition": 0},
         "x2": {"field": "t", "bandPosition": 1},
         "y": {"datum": "gB", "type": "nominal", "bandPosition": 0.39}
       }},
      {"data": {"values": [{}]},
       "mark": {"type": "text", "fontSize": 22, "fontWeight": "bold", "align": "left", "baseline": "middle", "dx": -30, "dy": -9.5},
       "encoding": {
         "x": {"datum": "2", "type": "nominal", "bandPosition": 0},
         "y": {"datum": "hdrT", "type": "nominal", "bandPosition": 0},
         "text": {"value": "a"}
       }},
      {"data": {"values": [{}]},
       "mark": {"type": "text", "fontSize": 18.5, "baseline": "middle", "dy": -6},
       "encoding": {
         "x": {"datum": "1", "type": "nominal", "bandPosition": 0.5},
         "y": {"datum": "hdrT", "type": "nominal", "bandPosition": 0},
         "text": {"value": "CC mapping"}
       }},
      {"data": {"values": [{}]},
       "mark": {"type": "text", "fontSize": 18.5, "baseline": "middle", "dy": 4},
       "encoding": {
         "x": {"datum": "1", "type": "nominal", "bandPosition": 0.5},
         "y": {"datum": "hdrB", "type": "nominal", "bandPosition": 1},
         "text": {"value": "TC mapping"}
       }},
      {"data": {"values": [{}]},
       "mark": {"type": "text", "fontSize": 14.5, "baseline": "middle", "align": "center", "angle": 270, "dy": 10},
       "encoding": {
         "x": {"datum": "8", "type": "nominal", "bandPosition": 1},
         "y": {"datum": "L4", "type": "nominal", "bandPosition": 0.5},
         "text": {"value": "relative density"}
       }}
    ]
  },
  {
    "width": 134, "height": 139.6,
    "layer": [
      {"data": {"name": "pts"},
       "mark": {"type": "point", "filled": true, "size": 12, "opacity": 1},
       "encoding": {
         "x": {"field": "x", "type": "quantitative", "scale": {"domain": [-2.71, 1.03], "nice": false, "zero": false}, "axis": {"values": [-2,-1,0,1], "title": "L5 Line Log10 NPV", "titleFontSize": 18, "labelFontSize": 15, "tickSize": 5, "labelPadding": 2, "titlePadding": 1}},
         "y": {"field": "y", "type": "quantitative", "scale": {"domain": [-2.75, 1.24], "nice": false, "zero": false}, "axis": {"values": [-2,-1,0,1], "title": "Avg L6 Line", "titleFontSize": 16.5, "labelFontSize": 15, "tickSize": 5, "labelPadding": 2, "titlePadding": 4, "domain": false}},
         "color": {"field": "c", "type": "nominal", "scale": {"domain": ["FF","FB"], "range": ["#a3a3a3","#000000"]}, "legend": {"orient": "none", "legendX": 104, "legendY": 41, "title": "CC+TC", "titleFontSize": 15, "titleFontWeight": "normal", "labelFontSize": 15, "symbolSize": 40, "rowPadding": 0, "labelOffset": 1, "titlePadding": 5}}
       }},
      {"data": {"values": [{"x": -2.51, "y": -2.13}, {"x": 0.98, "y": 0.79}]},
       "mark": {"type": "line", "color": "#ff0000", "strokeWidth": 1.6},
       "encoding": {"x": {"field": "x", "type": "quantitative"}, "y": {"field": "y", "type": "quantitative"}}},
      {"data": {"values": [{}]},
       "mark": {"type": "rule", "color": "#000", "strokeWidth": 1.5},
       "encoding": {"x": {"datum": -2.71, "type": "quantitative"}, "y": {"datum": -2.75, "type": "quantitative"}, "y2": {"datum": 1.0}}},
      {"data": {"values": [{"x": -1.94, "y": 0.26}, {"x": 0.14, "y": -2.0}]},
       "mark": {"type": "line", "color": "#000", "strokeWidth": 1},
       "encoding": {"x": {"field": "x", "type": "quantitative"}, "y": {"field": "y", "type": "quantitative"}}},
      {"data": {"values": [{}]},
       "mark": {"type": "point", "shape": "triangle-up", "angle": 317, "filled": true, "size": 30, "color": "#000", "opacity": 1},
       "encoding": {"x": {"datum": -1.94, "type": "quantitative"}, "y": {"datum": 0.26, "type": "quantitative"}}},
      {"data": {"values": [{}]},
       "mark": {"type": "point", "shape": "triangle-up", "angle": 137, "filled": true, "size": 30, "color": "#000", "opacity": 1},
       "encoding": {"x": {"datum": 0.14, "type": "quantitative"}, "y": {"datum": -2.0, "type": "quantitative"}}},
      {"data": {"values": [{}]},
       "mark": {"type": "rect", "color": "#111"},
       "encoding": {"x": {"datum": -2.6, "type": "quantitative"}, "x2": {"datum": -2.01}, "y": {"datum": 0.45, "type": "quantitative"}, "y2": {"datum": 0.88}}},
      {"data": {"values": [{}]},
       "mark": {"type": "text", "color": "#fff", "fontSize": 14, "baseline": "middle"},
       "encoding": {"x": {"datum": -2.305, "type": "quantitative"}, "y": {"datum": 0.665, "type": "quantitative"}, "text": {"value": "FB"}}},
      {"data": {"values": [{}]},
       "mark": {"type": "rect", "fill": "#999", "stroke": "#555", "strokeWidth": 1},
       "encoding": {"x": {"datum": 0.33, "type": "quantitative"}, "x2": {"datum": 0.92}, "y": {"datum": -2.52, "type": "quantitative"}, "y2": {"datum": -2.1}}},
      {"data": {"values": [{}]},
       "mark": {"type": "text", "color": "#111", "fontSize": 14, "baseline": "middle"},
       "encoding": {"x": {"datum": 0.625, "type": "quantitative"}, "y": {"datum": -2.31, "type": "quantitative"}, "text": {"value": "FF"}}},
      {"data": {"values": [{}]},
       "mark": {"type": "rule", "color": "#000", "strokeWidth": 1.2},
       "encoding": {"x": {"datum": 0.2, "type": "quantitative"}, "x2": {"datum": 1.54}, "y": {"datum": -0.36, "type": "quantitative"}}},
      {"data": {"values": [{}]},
       "mark": {"type": "text", "fontSize": 18.5, "baseline": "middle"},
       "encoding": {"x": {"datum": -0.84, "type": "quantitative"}, "y": {"datum": 1.42, "type": "quantitative"}, "text": {"value": "CT mapping"}}},
      {"data": {"values": [{}]},
       "mark": {"type": "text", "fontSize": 22, "fontWeight": "bold", "align": "left", "baseline": "middle"},
       "encoding": {"x": {"datum": -4.41, "type": "quantitative"}, "y": {"datum": 1.51, "type": "quantitative"}, "text": {"value": "b"}}}
    ]
  },
  {"width": 73, "height": 205.6, "data": {"values": [{}]}, "mark": {"type": "point", "opacity": 0}, "encoding": {}},
  {
    "width": 245, "height": 138.6,
    "layer": [
      {"data": {"name": "hist"},
       "mark": {"type": "bar", "width": 1.9},
       "encoding": {
         "x": {"field": "v", "type": "quantitative", "scale": {"domain": [-0.0068, 0.1355], "nice": false, "zero": false}, "axis": {"values": [-0.005,0.015,0.035,0.055,0.075,0.095,0.115,0.135], "labels": false, "title": "Global hierarchy score", "titleFontSize": 18, "tickSize": 5, "titlePadding": 17}},
         "y": {"field": "n", "type": "quantitative", "scale": {"domain": [0, 47.97], "nice": false}, "axis": {"values": [0,5,10,15,20,25,30,35,40,45], "labels": false, "title": "# of values", "titleFontSize": 18, "tickSize": 5, "titlePadding": 25, "domain": false}},
         "color": {"field": "s", "type": "nominal", "scale": {"domain": ["CC","CC+TC","CC+TC+CT"], "range": ["#22e622","#f4827c","#0a0af0"]}, "legend": {"orient": "none", "legendX": 138, "legendY": 11.6, "title": null, "symbolType": "square", "symbolSize": 110, "labelFontSize": 15, "rowPadding": -1, "labelOffset": 2}}
       }},
      {"data": {"values": [{"s":"CC","v":0.0718},{"s":"CC+TC","v":0.1245},{"s":"CC+TC+CT","v":0.1333}]},
       "mark": {"type": "rule", "strokeWidth": 3},
       "encoding": {"x": {"field": "v", "type": "quantitative"}, "y": {"datum": 0, "type": "quantitative"}, "y2": {"datum": 45}, "stroke": {"field": "s", "type": "nominal", "scale": {"domain": ["CC","CC+TC","CC+TC+CT"], "range": ["#22e622","#f4827c","#0a0af0"]}, "legend": null}}},
      {"data": {"values": [{}]},
       "mark": {"type": "rule", "color": "#000", "strokeWidth": 1.5},
       "encoding": {"x": {"datum": -0.0068, "type": "quantitative"}, "y": {"datum": 0, "type": "quantitative"}, "y2": {"datum": 45}}},
      {"data": {"values": [{"v":-0.005,"t":"-.005"},{"v":0.015,"t":".015"},{"v":0.035,"t":".035"},{"v":0.055,"t":".055"},{"v":0.075,"t":".075"},{"v":0.095,"t":".095"},{"v":0.115,"t":".115"},{"v":0.135,"t":".135"}]},
       "mark": {"type": "text", "fontSize": 14.5, "baseline": "middle", "dy": 15},
       "encoding": {"x": {"field": "v", "type": "quantitative"}, "y": {"datum": 0, "type": "quantitative"}, "text": {"field": "t"}}},
      {"data": {"values": [{"n":0},{"n":5},{"n":10},{"n":15},{"n":20},{"n":25},{"n":30},{"n":35},{"n":40},{"n":45}]},
       "mark": {"type": "text", "fontSize": 16.5, "baseline": "middle", "align": "right", "dx": -7},
       "encoding": {"x": {"datum": -0.0068, "type": "quantitative"}, "y": {"field": "n", "type": "quantitative"}, "text": {"field": "n"}}},
      {"data": {"values": [{"a": -0.0052, "b": 0.058}, {"a": 0.0712, "b": 0.1343}]},
       "mark": {"type": "rule", "color": "#000", "strokeWidth": 1.5},
       "encoding": {"x": {"field": "a", "type": "quantitative"}, "x2": {"field": "b"}, "y": {"datum": 45.3, "type": "quantitative"}}},
      {"data": {"values": [{"t": "shuffled", "v": 0.0259}, {"t": "observed", "v": 0.0984}]},
       "mark": {"type": "text", "fontSize": 18.5, "baseline": "middle"},
       "encoding": {"x": {"field": "v", "type": "quantitative"}, "y": {"datum": 48.6, "type": "quantitative"}, "text": {"field": "t"}}},
      {"data": {"values": [{}]},
       "mark": {"type": "text", "fontSize": 22, "fontWeight": "bold", "align": "left", "baseline": "middle"},
       "encoding": {"x": {"datum": -0.0526, "type": "quantitative"}, "y": {"datum": 50.6, "type": "quantitative"}, "text": {"value": "c"}}}
    ]
  },
  {
    "width": 298, "height": 503.8,
    "layer": [
      {"data": {"name": "d1"},
       "mark": {"type": "rect"},
       "encoding": {
         "y": {"field": "area", "type": "nominal", "scale": {"domain": ["POL","VM","RE","PF","PIL","ORBvl","ACAd","AIv","TEa","MOs","VISa","VISam","ACAv","VISpor","FRP","ILA","ORBm","PL","AUDpo","ORBl","LP","SMT","VAL","AV","SSp-tr","AId","VISpm","CM","PVT","VISal","RSPv","RSPagl","VISpl","PO","VISli"], "paddingInner": 0, "paddingOuter": 0}, "axis": null},
         "x": {"datum": -1.4576, "type": "quantitative", "scale": {"domain": [-1.4576, 0.3551], "nice": false, "zero": false}, "axis": null},
         "x2": {"datum": -1.0622},
         "fill": {"field": "group", "type": "nominal", "scale": {"domain": ["Prefrontal","Lateral","Somatomotor","Visual","Medial","Auditory","Thalamus"], "range": ["#ff0000","#ffff66","#f7922e","#91c3f2","#4b4da3","#7c3f98","#e3e3e3"]}, "legend": {"orient": "none", "legendX": 78, "legendY": 2, "title": null, "labelFontSize": 18.5, "symbolType": "square", "symbolSize": 200, "rowPadding": 5.3, "labelOffset": 4, "symbolStrokeWidth": 0}}
       }},
      {"data": {"name": "d1"},
       "mark": {"type": "text", "align": "right", "baseline": "middle", "dx": -10, "fontSize": 15, "color": "#111"},
       "encoding": {"y": {"field": "area", "type": "nominal"}, "x": {"datum": -1.0622, "type": "quantitative"}, "text": {"field": "area"}}},
      {"data": {"name": "d1"},
       "mark": {"type": "rule", "color": "#000", "strokeWidth": 2},
       "encoding": {"y": {"field": "area", "type": "nominal"}, "x": {"datum": -1.0987, "type": "quantitative"}, "x2": {"datum": -1.05}}},
      {"data": {"values": [{}]},
       "mark": {"type": "rule", "color": "#000", "strokeWidth": 2},
       "encoding": {"x": {"datum": -1.05, "type": "quantitative"}}},
      {"data": {"values": [{}]},
       "mark": {"type": "rule", "strokeDash": [2, 5], "strokeWidth": 2.2, "color": "#000"},
       "encoding": {"x": {"datum": 0, "type": "quantitative"}}},
      {"data": {"name": "d1"},
       "transform": [{"fold": ["CC", "CC+TC", "CC+TC+CT"], "as": ["series", "score"]}, {"filter": "isValid(datum.score) && datum.score < 0.3551"}],
       "mark": {"type": "point", "filled": true, "size": 113, "opacity": 1},
       "encoding": {
         "y": {"field": "area", "type": "nominal"},
         "x": {"field": "score", "type": "quantitative"},
         "color": {"field": "series", "type": "nominal", "scale": {"domain": ["CC", "CC+TC", "CC+TC+CT"], "range": ["#22e622", "#f4857f", "#0a0af5"]}, "legend": null}
       }},
      {"data": {"values": [{}]},
       "mark": {"type": "text", "fontSize": 22, "angle": 270, "baseline": "middle", "align": "center", "dy": -16.5},
       "encoding": {"x": {"datum": -1.4576, "type": "quantitative"}, "y": {"datum": "VISpm", "type": "nominal", "bandPosition": 0.47}, "text": {"value": "cortical and thalamic areas"}}},
      {"data": {"values": [{}]},
       "mark": {"type": "text", "fontSize": 22, "fontWeight": "bold", "align": "left", "baseline": "middle", "dx": -22, "dy": -13},
       "encoding": {"x": {"datum": -1.4576, "type": "quantitative"}, "y": {"datum": "POL", "type": "nominal", "bandPosition": 0}, "text": {"value": "d"}}}
    ]
  },
  {
    "width": 106, "height": 503.8,
    "layer": [
      {"data": {"name": "d1"},
       "transform": [{"fold": ["CC", "CC+TC", "CC+TC+CT"], "as": ["series", "score"]}, {"filter": "isValid(datum.score) && datum.score >= 0.3551"}],
       "mark": {"type": "point", "filled": true, "size": 113, "opacity": 1},
       "encoding": {
         "y": {"field": "area", "type": "nominal", "scale": {"domain": ["POL","VM","RE","PF","PIL","ORBvl","ACAd","AIv","TEa","MOs","VISa","VISam","ACAv","VISpor","FRP","ILA","ORBm","PL","AUDpo","ORBl","LP","SMT","VAL","AV","SSp-tr","AId","VISpm","CM","PVT","VISal","RSPv","RSPagl","VISpl","PO","VISli"], "paddingInner": 0, "paddingOuter": 0}, "axis": null},
         "x": {"field": "score", "type": "quantitative", "scale": {"domain": [0.3551, 1.0], "nice": false, "zero": false}, "axis": null},
         "color": {"field": "series", "type": "nominal", "scale": {"domain": ["CC", "CC+TC", "CC+TC+CT"], "range": ["#22e622", "#f4857f", "#0a0af5"]}, "legend": null}
       }}
    ]
  },
  {"width": 73, "height": 1, "data": {"values": [{}]}, "mark": {"type": "point", "opacity": 0}, "encoding": {}},
  {
    "width": 267, "height": 503.8,
    "layer": [
      {"data": {"name": "earcs"},
       "mark": {"type": "line", "interpolate": "natural", "strokeCap": "butt"},
       "encoding": {
         "x": {"field": "x", "type": "quantitative", "scale": {"domain": [-0.9818, 0.96], "nice": false, "zero": false}, "axis": null},
         "y": {"field": "y", "type": "quantitative", "scale": {"domain": [-0.6716, 0.336], "nice": false, "zero": false}, "axis": {"values": [-0.5, -0.25, 0, 0.25], "labelExpr": "datum.value == 0 ? '0.0' : format(datum.value, '.2~f')", "domain": false, "offset": 8, "tickSize": 6, "tickWidth": 2, "labelFontSize": 15, "title": "Hierarchy score (all areas)", "titleFontSize": 21, "titlePadding": 8, "titleY": 200}},
         "detail": {"field": "a", "type": "nominal"},
         "order": {"field": "k", "type": "quantitative"},
         "color": {"field": "s", "type": "nominal", "scale": {"domain": ["VISam","VISpor","VISa","VISpm","VISpl","VISal","VISli","VISl","VISrl","VISp"], "range": ["#2b3192","#86acdc","#2e3192","#30338f","#92cff6","#6c9fee","#5d9fe2","#92c0f0","#a6cbf3","#a4d0f5"]}, "legend": null},
         "size": {"field": "w", "type": "quantitative", "scale": {"domain": [0, 1], "range": [0, 12]}, "legend": null}
       }},
      {"data": {"values": [{}]},
       "mark": {"type": "rule", "color": "#000", "strokeWidth": 2},
       "encoding": {"x": {"datum": -1.04, "type": "quantitative"}, "y": {"datum": -0.5, "type": "quantitative"}, "y2": {"datum": 0.276}}},
      {"data": {"values": [{}]},
       "mark": {"type": "point", "shape": "triangle-up", "filled": true, "size": 60, "color": "#000", "opacity": 1},
       "encoding": {"x": {"datum": -1.04, "type": "quantitative"}, "y": {"datum": 0.281, "type": "quantitative"}}},
      {"data": {"name": "enodes"},
       "mark": {"type": "point", "filled": true, "size": 415, "stroke": "#222", "strokeWidth": 1, "opacity": 1},
       "encoding": {"x": {"datum": 0, "type": "quantitative"}, "y": {"field": "y", "type": "quantitative"}, "color": {"field": "n", "type": "nominal", "legend": null}}},
      {"data": {"values": [{"n":"VISam","y":0.29},{"n":"VISrl","y":-0.16}]},
       "mark": {"type": "text", "align": "left", "baseline": "middle", "dx": 15, "fontSize": 18},
       "encoding": {"x": {"datum": 0, "type": "quantitative"}, "y": {"field": "y", "type": "quantitative"}, "text": {"field": "n"}}},
      {"data": {"values": [{"n":"VISa","y":0.198},{"n":"VISpm","y":0.102},{"n":"VISal","y":0.005}]},
       "mark": {"type": "text", "align": "left", "baseline": "middle", "dx": 13, "fontSize": 18, "fontWeight": "bold", "color": "#ffffff"},
       "encoding": {"x": {"datum": 0, "type": "quantitative"}, "y": {"field": "y", "type": "quantitative"}, "text": {"field": "n"}}},
      {"data": {"values": [{"n":"VISpor","y":0.253},{"n":"VISpl","y":0.035},{"n":"VISli","y":-0.05},{"n":"VISl","y":-0.117}]},
       "mark": {"type": "text", "align": "right", "baseline": "middle", "dx": -13, "fontSize": 18},
       "encoding": {"x": {"datum": 0, "type": "quantitative"}, "y": {"field": "y", "type": "quantitative"}, "text": {"field": "n"}}},
      {"data": {"values": [{"n":"VISp","y":-0.497}]},
       "mark": {"type": "text", "align": "center", "baseline": "middle", "dy": 24, "fontSize": 18},
       "encoding": {"x": {"datum": 0, "type": "quantitative"}, "y": {"field": "y", "type": "quantitative"}, "text": {"field": "n"}}},
      {"data": {"values": [{}]},
       "mark": {"type": "text", "fontSize": 14.5, "baseline": "middle"},
       "encoding": {"x": {"datum": -1.04, "type": "quantitative"}, "y": {"datum": 0.314, "type": "quantitative"}, "text": {"value": "top"}}},
      {"data": {"values": [{}]},
       "mark": {"type": "text", "fontSize": 15, "baseline": "middle", "dy": 23},
       "encoding": {"x": {"datum": -1.04, "type": "quantitative"}, "y": {"datum": -0.5, "type": "quantitative"}, "text": {"value": "bottom"}}},
      {"data": {"values": [{"t": "out", "x": -0.47}, {"t": "in", "x": 0.52}]},
       "mark": {"type": "text", "fontSize": 19, "baseline": "middle"},
       "encoding": {"x": {"field": "x", "type": "quantitative"}, "y": {"datum": -0.473, "type": "quantitative"}, "text": {"field": "t"}}},
      {"data": {"values": [{}]},
       "mark": {"type": "text", "fontSize": 21.5, "baseline": "middle", "dy": -3},
       "encoding": {"x": {"datum": 0, "type": "quantitative"}, "y": {"datum": 0.336, "type": "quantitative"}, "text": {"value": "CC+TC+CT"}}},
      {"data": {"values": [{}]},
       "mark": {"type": "text", "fontSize": 22, "fontWeight": "bold", "align": "left", "baseline": "middle"},
       "encoding": {"x": {"datum": -1.49, "type": "quantitative"}, "y": {"datum": 0.35, "type": "quantitative"}, "text": {"value": "e"}}}
    ]
  },
  {
    "width": 298, "height": 374.2,
    "layer": [
      {"data": {"name": "d2"},
       "mark": {"type": "rect"},
       "encoding": {
         "y": {"field": "area", "type": "nominal", "scale": {"domain": ["MOp","LD","RSPd","VISrl","VISl","AIp","SSs","SSp-bfd","PT","SSp-m","SSp-ul","MD","AUDd","SSp-ll","SSp-n","AUDp","IMD","AM","MG","VISp","IAD","CL","LGd","PCN","VPL","VPM"], "paddingInner": 0, "paddingOuter": 0}, "axis": null},
         "x": {"datum": -1.4576, "type": "quantitative", "scale": {"domain": [-1.4576, 0.3551], "nice": false, "zero": false}, "axis": {"values": [-1, -0.5, 0], "format": ".1f", "labelFontSize": 15, "title": "Hierarchy score (all areas)", "titleFontSize": 22, "tickSize": 6, "tickWidth": 2, "domain": false, "labelPadding": 8, "titlePadding": 0, "labelFlush": false, "titleX": 239}},
         "x2": {"datum": -1.0622},
         "fill": {"field": "group", "type": "nominal", "scale": {"domain": ["Prefrontal","Lateral","Somatomotor","Visual","Medial","Auditory","Thalamus"], "range": ["#ff0000","#ffff66","#f7922e","#91c3f2","#4b4da3","#7c3f98","#e3e3e3"]}, "legend": null}
       }},
      {"data": {"name": "d2"},
       "mark": {"type": "text", "align": "right", "baseline": "middle", "dx": -10, "fontSize": 15, "color": "#111"},
       "encoding": {"y": {"field": "area", "type": "nominal"}, "x": {"datum": -1.0622, "type": "quantitative"}, "text": {"field": "area"}}},
      {"data": {"name": "d2"},
       "mark": {"type": "rule", "color": "#000", "strokeWidth": 2},
       "encoding": {"y": {"field": "area", "type": "nominal"}, "x": {"datum": -1.0987, "type": "quantitative"}, "x2": {"datum": -1.05}}},
      {"data": {"values": [{}]},
       "mark": {"type": "rule", "color": "#000", "strokeWidth": 2},
       "encoding": {"x": {"datum": -1.05, "type": "quantitative"}}},
      {"data": {"values": [{}]},
       "mark": {"type": "rule", "color": "#000", "strokeWidth": 2},
       "encoding": {"x": {"datum": -1.05, "type": "quantitative"}, "x2": {"datum": 0.3551}, "y": {"datum": "VPM", "type": "nominal", "bandPosition": 1}}},
      {"data": {"values": [{}]},
       "mark": {"type": "rule", "strokeDash": [2, 5], "strokeWidth": 2.2, "color": "#000"},
       "encoding": {"x": {"datum": 0, "type": "quantitative"}}},
      {"data": {"name": "d2"},
       "transform": [{"fold": ["CC", "CC+TC", "CC+TC+CT"], "as": ["series", "score"]}, {"filter": "isValid(datum.score) && datum.score < 0.3551"}],
       "mark": {"type": "point", "filled": true, "size": 113, "opacity": 1},
       "encoding": {
         "y": {"field": "area", "type": "nominal"},
         "x": {"field": "score", "type": "quantitative"},
         "color": {"field": "series", "type": "nominal", "scale": {"domain": ["CC", "CC+TC", "CC+TC+CT"], "range": ["#22e622", "#f4857f", "#0a0af5"]}, "legend": null}
       }}
    ]
  },
  {
    "width": 106, "height": 374.2,
    "layer": [
      {"data": {"values": [{"s": "CC"}, {"s": "CC+TC"}, {"s": "CC+TC+CT"}]},
       "mark": {"type": "point", "filled": true, "size": 113, "opacity": 0},
       "encoding": {
         "x": {"datum": 0.5, "type": "quantitative", "scale": {"domain": [0.3551, 1.0], "nice": false, "zero": false}, "axis": {"values": [0.5, 1], "format": ".1f", "labelFontSize": 15, "title": null, "tickSize": 6, "tickWidth": 2, "domain": false, "labelPadding": 8, "labelFlush": false}},
         "y": {"datum": "VPM", "type": "nominal", "scale": {"domain": ["MOp","LD","RSPd","VISrl","VISl","AIp","SSs","SSp-bfd","PT","SSp-m","SSp-ul","MD","AUDd","SSp-ll","SSp-n","AUDp","IMD","AM","MG","VISp","IAD","CL","LGd","PCN","VPL","VPM"], "paddingInner": 0, "paddingOuter": 0}, "axis": null},
         "color": {"field": "s", "type": "nominal", "scale": {"domain": ["CC", "CC+TC", "CC+TC+CT"], "range": ["#22e622", "#f4857f", "#0a0af5"]}, "legend": {"orient": "none", "legendX": 7.5, "legendY": 306.2, "title": null, "labelFontSize": 15, "symbolSize": 227, "symbolOpacity": 1, "rowPadding": 5.7, "labelOffset": 4}}
       }},
      {"data": {"values": [{}]},
       "mark": {"type": "rule", "color": "#000", "strokeWidth": 2},
       "encoding": {"x": {"datum": 0.3551, "type": "quantitative"}, "x2": {"datum": 1.0}, "y": {"datum": "VPM", "type": "nominal", "bandPosition": 1}}}
    ]
  },
  {"width": 73, "height": 1, "data": {"values": [{}]}, "mark": {"type": "point", "opacity": 0}, "encoding": {}},
  {
    "width": 267, "height": 391.9,
    "layer": [
      {"data": {"name": "farcs"},
       "mark": {"type": "line", "interpolate": "natural", "strokeCap": "butt"},
       "encoding": {
         "x": {"field": "x", "type": "quantitative", "scale": {"domain": [-0.9818, 0.96], "nice": false, "zero": false}, "axis": null},
         "y": {"field": "y", "type": "quantitative", "scale": {"domain": [-0.125, 0.3134], "nice": false, "zero": false}, "axis": {"values": [-0.1, 0, 0.1, 0.2, 0.3], "format": ".1f", "domain": false, "offset": 8, "tickSize": 6, "tickWidth": 2, "labelFontSize": 15, "title": "Hierarchy score (all areas)", "titleFontSize": 21, "titlePadding": 8, "titleY": 181}},
         "detail": {"field": "a", "type": "nominal"},
         "order": {"field": "k", "type": "quantitative"},
         "color": {"field": "s", "type": "nominal", "scale": {"domain": ["Prefrontal","Lateral","Medial","Somatomotor","Visual","Auditory"], "range": ["#ff0000","#ffff66","#2e3192","#f7941d","#8fc1f0","#7a3d96"]}, "legend": null},
         "size": {"field": "w", "type": "quantitative", "scale": {"domain": [0, 1], "range": [0, 14]}, "legend": null}
       }},
      {"data": {"values": [{}]},
       "mark": {"type": "rule", "color": "#000", "strokeWidth": 2},
       "encoding": {"x": {"datum": -1.04, "type": "quantitative"}, "y": {"datum": -0.125, "type": "quantitative"}, "y2": {"datum": 0.307}}},
      {"data": {"values": [{}]},
       "mark": {"type": "point", "shape": "triangle-up", "filled": true, "size": 60, "color": "#000", "opacity": 1},
       "encoding": {"x": {"datum": -1.04, "type": "quantitative"}, "y": {"datum": 0.313, "type": "quantitative"}}},
      {"data": {"name": "fnodes"},
       "mark": {"type": "point", "filled": true, "size": 530, "stroke": "#222", "strokeWidth": 1, "opacity": 1},
       "encoding": {"x": {"datum": 0, "type": "quantitative"}, "y": {"field": "y", "type": "quantitative"}, "color": {"field": "n", "type": "nominal", "legend": null}}},
      {"data": {"values": [{"n":"Prefrontal","y":0.317},{"n":"Auditory","y":-0.122}]},
       "mark": {"type": "text", "align": "left", "baseline": "middle", "dx": 15, "dy": 1, "fontSize": 18.5},
       "encoding": {"x": {"datum": 0, "type": "quantitative"}, "y": {"field": "y", "type": "quantitative"}, "text": {"field": "n"}}},
      {"data": {"values": [{"n":"Lateral","y":0.194},{"n":"Somatomotor","y":0.001}]},
       "mark": {"type": "text", "align": "center", "baseline": "middle", "dy": -22, "fontSize": 18.5},
       "encoding": {"x": {"datum": 0, "type": "quantitative"}, "y": {"field": "y", "type": "quantitative"}, "text": {"field": "n"}}},
      {"data": {"values": [{"n":"Medial","y":0.16},{"n":"Visual","y":-0.052}]},
       "mark": {"type": "text", "align": "center", "baseline": "middle", "dy": 23, "fontSize": 18.5},
       "encoding": {"x": {"datum": 0, "type": "quantitative"}, "y": {"field": "y", "type": "quantitative"}, "text": {"field": "n"}}},
      {"data": {"values": [{}]},
       "mark": {"type": "text", "fontSize": 14.5, "baseline": "middle"},
       "encoding": {"x": {"datum": -1.04, "type": "quantitative"}, "y": {"datum": 0.331, "type": "quantitative"}, "text": {"value": "top"}}},
      {"data": {"values": [{}]},
       "mark": {"type": "text", "fontSize": 15, "baseline": "middle", "dy": 23},
       "encoding": {"x": {"datum": -1.04, "type": "quantitative"}, "y": {"datum": -0.125, "type": "quantitative"}, "text": {"value": "bottom"}}},
      {"data": {"values": [{}]},
       "mark": {"type": "text", "fontSize": 21.5, "baseline": "middle"},
       "encoding": {"x": {"datum": 0, "type": "quantitative"}, "y": {"datum": 0.3535, "type": "quantitative"}, "text": {"value": "CC+TC+CT"}}},
      {"data": {"values": [{}]},
       "mark": {"type": "text", "fontSize": 22, "fontWeight": "bold", "align": "left", "baseline": "middle"},
       "encoding": {"x": {"datum": -1.49, "type": "quantitative"}, "y": {"datum": 0.356, "type": "quantitative"}, "text": {"value": "f"}}}
    ]
  }
]
}
